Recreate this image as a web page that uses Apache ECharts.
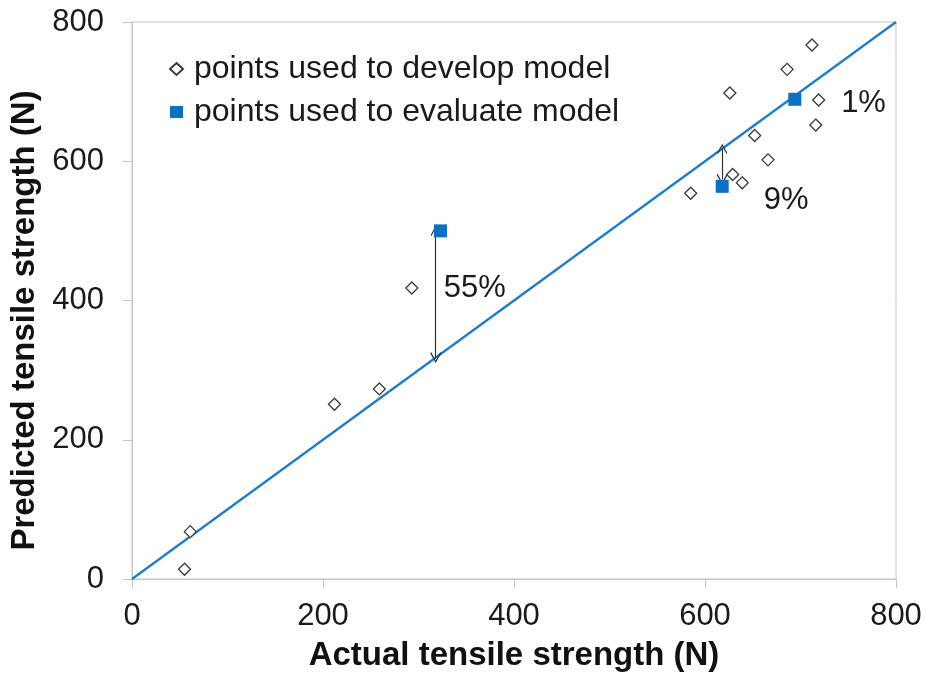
<!DOCTYPE html>
<html>
<head>
<meta charset="utf-8">
<style>
  html, body { margin: 0; padding: 0; background: #fff; }
  #chart { width: 925px; height: 677px; }
</style>
<script src="https://cdn.jsdelivr.net/npm/echarts@6/dist/echarts.min.js"></script>
</head>
<body>
<div id="chart"></div>
<script>
// Actual vs predicted tensile strength (N)
const developActual    = [55, 61, 212, 259, 293, 585, 626, 629, 639, 652, 666, 686, 712, 716, 719];
const developPredicted = [14, 68, 251, 273, 418, 554, 698, 581, 569, 637, 602, 732, 767, 652, 688];
const evaluateActual    = [323, 618, 694];
const evaluatePredicted = [500, 564, 689];
const axisTicks = [0, 200, 400, 600, 800];
// error annotations: arrow x, arrow from / to (predicted vs 1:1 line), label text
const errorLabels = ['55%', '9%', '1%'];
const errorArrowX = [318, 618];
const errorArrowFrom = [500, 618];
const errorArrowTo = [318, 574];
const labelAnchors = [[359, 417], [685, 543], [766, 683]];

const FONT = 'Liberation Sans, Arial, sans-serif';
const BLUE = '#1b7bcb';
const SQUARE = '#0a70c2';
const chevron = 'path://M0,0 L6,9 L5,10 L0,2.4 L-5,10 L-6,9 Z';

const develop = developActual.map((x, i) => [x, developPredicted[i]]);
const evaluate = evaluateActual.map((x, i) => [x, evaluatePredicted[i]]);
const arrows = errorArrowX.map((x, i) => ({ coords: [[x, errorArrowFrom[i]], [x, errorArrowTo[i]]] }));
const labels = labelAnchors.map((p, i) => ({ value: p, name: errorLabels[i] }));

const tickLabel = { fontFamily: FONT, fontSize: 31, color: '#1a1a1a' };
const axisTitle = { fontFamily: FONT, fontSize: 33, fontWeight: 'bold', color: '#111' };

const chart = echarts.init(document.getElementById('chart'));
chart.setOption({
  animation: false,
  grid: { left: 132, right: 29, top: 22, bottom: 98, show: true, borderColor: '#c4c4c4', borderWidth: 1 },
  legend: {
    orient: 'vertical', left: 164, top: 48, itemGap: 11,
    itemWidth: 13, itemHeight: 12,
    textStyle: { fontFamily: FONT, fontSize: 32, color: '#1a1a1a', padding: [0, 0, 0, 6] },
    data: ['points used to develop model', 'points used to evaluate model']
  },
  xAxis: {
    type: 'value', min: 0, max: 800, interval: 200,
    name: 'Actual tensile strength (N)', nameLocation: 'middle', nameGap: 60,
    nameTextStyle: axisTitle,
    axisLine: { show: true, lineStyle: { color: '#c4c4c4', width: 1 } },
    axisTick: { show: true, length: 9, inside: false, lineStyle: { color: '#c4c4c4' } },
    axisLabel: Object.assign({ margin: 22, formatter: v => axisTicks.includes(v) ? String(v) : '' }, tickLabel),
    splitLine: { show: false }
  },
  yAxis: {
    type: 'value', min: 0, max: 800, interval: 200,
    name: 'Predicted tensile strength (N)', nameLocation: 'middle', nameGap: 90,
    nameTextStyle: Object.assign({ padding: [0, 40, 0, 0] }, axisTitle),
    axisLine: { show: true, lineStyle: { color: '#c4c4c4', width: 1 } },
    axisTick: { show: true, length: 9, inside: false, lineStyle: { color: '#c4c4c4' } },
    axisLabel: Object.assign({ margin: 28, formatter: v => axisTicks.includes(v) ? String(v) : '' }, tickLabel),
    splitLine: { show: false }
  },
  series: [
    {
      name: 'line', type: 'line', data: [[0, 0], [800, 800]], showSymbol: false,
      lineStyle: { color: BLUE, width: 2.2 }, z: 2, silent: true
    },
    {
      name: 'arrows', type: 'lines', coordinateSystem: 'cartesian2d', data: arrows,
      symbol: [chevron, chevron], symbolSize: [10, 11],
      lineStyle: { color: '#333', width: 1.2, opacity: 1 }, z: 3, silent: true
    },
    {
      name: 'points used to develop model', type: 'scatter', data: develop,
      symbol: 'diamond', symbolSize: 12,
      itemStyle: { color: '#fff', borderColor: '#3a3a3a', borderWidth: 1.3, opacity: 1 }, z: 4
    },
    {
      name: 'points used to evaluate model', type: 'scatter', data: evaluate,
      symbol: 'rect', symbolSize: 13,
      itemStyle: { color: SQUARE, opacity: 1 }, z: 5
    },
    {
      name: 'errors', type: 'scatter', data: labels, symbolSize: 0, silent: true,
      itemStyle: { opacity: 1 },
      label: { show: true, position: 'inside', formatter: p => p.name,
        fontFamily: FONT, fontSize: 31, color: '#1a1a1a' }, z: 6
    }
  ]
});
</script>
</body>
</html>
